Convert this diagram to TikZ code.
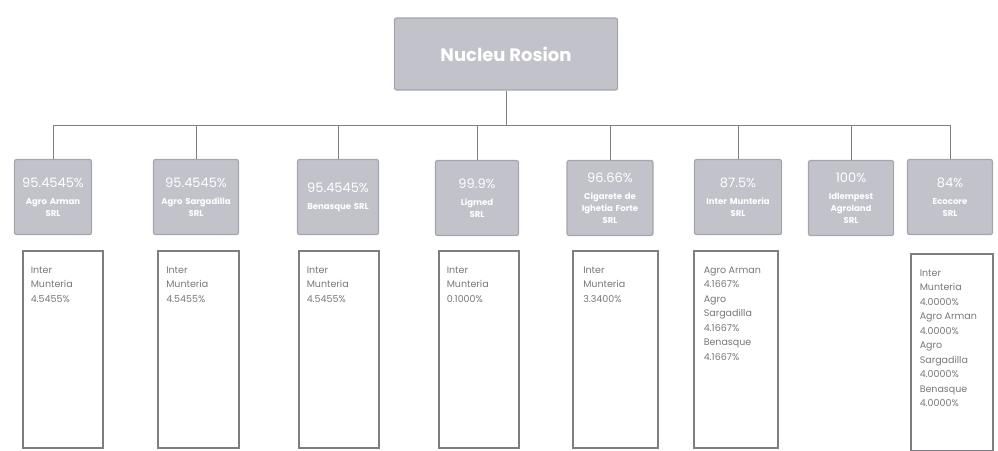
\documentclass[tikz,border=0pt]{standalone}
\usepackage{fontspec}
\setmainfont{Poppins}
\definecolor{boxgray}{RGB}{194,194,203}
\definecolor{edgegray}{RGB}{165,165,174}
\definecolor{linegray}{RGB}{125,125,130}
\definecolor{textgray}{RGB}{120,120,120}
\newcommand{\pct}[1]{{\fontsize{13}{16}\selectfont\mdseries #1}\\[5pt]}
\newcommand{\sharelist}[1]{\parbox[t][165pt][t]{64pt}{\raggedright #1}}

\begin{document}
\begin{tikzpicture}[x=1pt, y=-1pt,
		head/.style={fill=boxgray, draw=edgegray, line width=1.2pt, rounded corners=2pt, text=white, align=center, minimum height=75pt, inner sep=2pt, font=\fontsize{8.5}{12}\selectfont\bfseries},
		share/.style={draw=linegray, line width=1.5pt, fill=white, anchor=north west, inner xsep=8pt, inner ysep=16pt, text=textgray, font=\fontsize{9.5}{14.5}\selectfont},
		link/.style={draw=linegray, line width=1pt}]
		\useasboundingbox (0, 0) rectangle (998, 450);
		\node[head, minimum width=223pt, minimum height=72pt, font=\fontsize{18}{20}\selectfont\bfseries] (root) at (506, 54) {Nucleu Rosion};
		\coordinate (bus) at (506, 125);
		\node[head, minimum width=77pt, text width=73pt] (h1) at (53, 197) {\pct{95.4545\%}Agro Arman\\SRL};
		\node[head, minimum width=85pt, text width=81pt] (h2) at (196, 197) {\pct{95.4545\%}Agro Sargadilla\\SRL};
		\node[head, minimum width=81pt, text width=77pt] (h3) at (338, 197) {\pct{95.4545\%}Benasque SRL};
		\node[head, minimum width=83pt, text width=79pt] (h4) at (477, 198) {\pct{99.9\%}Ligmed\\SRL};
		\node[head, minimum width=86pt, text width=82pt] (h5) at (610, 198) {\pct{96.66\%}Cigarete de\\Ighetia Forte\\SRL};
		\node[head, minimum width=87pt, text width=83pt] (h6) at (738, 197) {\pct{87.5\%}Inter Munteria\\SRL};
		\node[head, minimum width=85pt, text width=81pt] (h7) at (851, 198) {\pct{100\%}Idlempest\\Agroland\\SRL};
		\node[head, minimum width=85pt, text width=81pt] (h8) at (950, 197) {\pct{84\%}Ecocore\\SRL};
		\draw[link] (root) to (bus);
		\foreach \i in {1,...,8}
			\draw[link] (bus) -| (h\i);
		\node[share, minimum width=78pt, minimum height=192pt] (s1) at (22, 250) {\sharelist{Inter\\Munteria\\4.5455\%}};
		\node[share, minimum width=81pt, minimum height=192pt] (s2) at (157, 250) {\sharelist{Inter\\Munteria\\4.5455\%}};
		\node[share, minimum width=80pt, minimum height=192pt] (s3) at (298, 250) {\sharelist{Inter\\Munteria\\4.5455\%}};
		\node[share, minimum width=79pt, minimum height=192pt] (s4) at (438, 250) {\sharelist{Inter\\Munteria\\0.1000\%}};
		\node[share, minimum width=85pt, minimum height=192pt] (s5) at (572, 250) {\sharelist{Inter\\Munteria\\3.3400\%}};
		\node[share, minimum width=84pt, minimum height=192pt] (s6) at (693, 250) {\sharelist{Agro Arman\\4.1667\%\\Agro\\Sargadilla\\4.1667\%\\Benasque\\4.1667\%}};
		\node[share, minimum width=82pt, minimum height=189pt] (s8) at (910, 253) {\sharelist{Inter\\Munteria\\4.0000\%\\Agro Arman\\4.0000\%\\Agro\\Sargadilla\\4.0000\%\\Benasque\\4.0000\%}};
	\end{tikzpicture}
\end{document}
